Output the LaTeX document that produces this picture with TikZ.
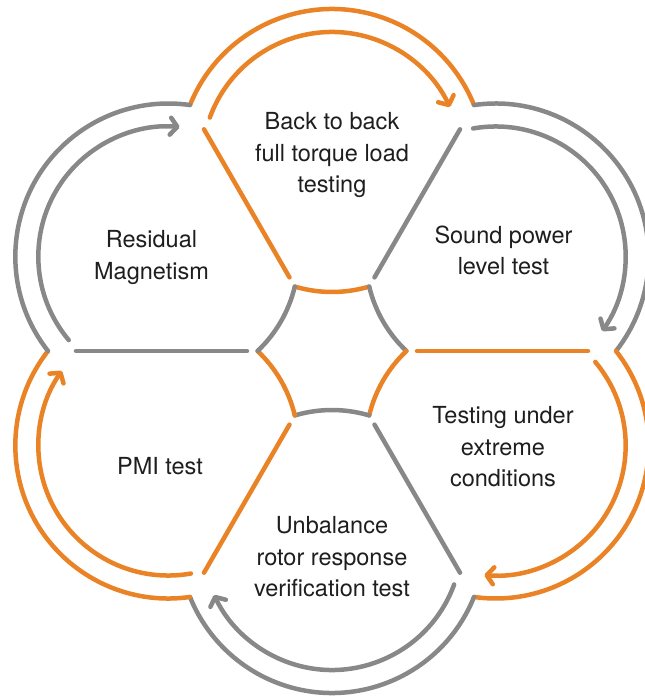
\documentclass[tikz,border=0pt]{standalone}
\usepackage{fontspec}
\setmainfont{TeX Gyre Heros}
\usetikzlibrary{arrows.meta,positioning}
\definecolor{cycleorange}{RGB}{233,131,38}
\definecolor{cyclegray}{RGB}{136,136,136}
\definecolor{cycletext}{RGB}{30,30,30}

\begin{document}
\begin{tikzpicture}[x=1pt,y=1pt,line width=4.5pt,line cap=round,
  orangeline/.style={draw=cycleorange},
  grayline/.style={draw=cyclegray},
  turn/.style={-{Straight Barb[length=7pt,width=17pt,round]}},
  testname/.style={text=cycletext,align=center,font=\fontsize{23.5}{31.5}\selectfont}]
\useasboundingbox (-332,-346) rectangle (313,351);
% top petal
\draw[orangeline] (90:189) ++(158.1:153pt) arc[start angle=158.1,end angle=21.9,radius=153pt];
\draw[orangeline,turn] (90:189) ++(160:130pt) arc[start angle=160,end angle=25,radius=130pt];
\draw[orangeline] (120:85) -- (120:256);
\draw[orangeline] (90:189) ++(253.4:130pt) arc[start angle=253.4,end angle=286.6,radius=130pt];
% upper right petal
\draw[grayline] (30:189) ++(98.1:153pt) arc[start angle=98.1,end angle=-38.1,radius=153pt];
\draw[grayline,turn] (30:189) ++(100:130pt) arc[start angle=100,end angle=-35,radius=130pt];
\draw[grayline] (60:85) -- (60:256);
\draw[grayline] (30:189) ++(193.4:130pt) arc[start angle=193.4,end angle=226.6,radius=130pt];
% lower right petal
\draw[orangeline] (-30:189) ++(38.1:153pt) arc[start angle=38.1,end angle=-98.1,radius=153pt];
\draw[orangeline,turn] (-30:189) ++(40:130pt) arc[start angle=40,end angle=-95,radius=130pt];
\draw[orangeline] (0:85) -- (0:256);
\draw[orangeline] (-30:189) ++(133.4:130pt) arc[start angle=133.4,end angle=166.6,radius=130pt];
% bottom petal
\draw[grayline] (-90:189) ++(-21.9:153pt) arc[start angle=-21.9,end angle=-158.1,radius=153pt];
\draw[grayline,turn] (-90:189) ++(-20:130pt) arc[start angle=-20,end angle=-155,radius=130pt];
\draw[grayline] (-60:85) -- (-60:256);
\draw[grayline] (-90:189) ++(73.4:130pt) arc[start angle=73.4,end angle=106.6,radius=130pt];
% lower left petal
\draw[orangeline] (-150:189) ++(-81.9:153pt) arc[start angle=-81.9,end angle=-218.1,radius=153pt];
\draw[orangeline,turn] (-150:189) ++(-80:130pt) arc[start angle=-80,end angle=-215,radius=130pt];
\draw[orangeline] (-120:85) -- (-120:256);
\draw[orangeline] (-150:189) ++(13.4:130pt) arc[start angle=13.4,end angle=46.6,radius=130pt];
% upper left petal
\draw[grayline] (150:189) ++(218.1:153pt) arc[start angle=218.1,end angle=81.9,radius=153pt];
\draw[grayline,turn] (150:189) ++(220:130pt) arc[start angle=220,end angle=85,radius=130pt];
\draw[grayline] (180:85) -- (180:256);
\draw[grayline] (150:189) ++(313.4:130pt) arc[start angle=313.4,end angle=346.6,radius=130pt];
% texts
\node[testname] (backtoback) at (0,196) {Back to back\\full torque load\\testing};
\node[testname] (soundpower) at (171.5,100.5) {Sound power\\level test};
\node[testname] (extreme) at (171,-96) {Testing under\\extreme\\conditions};
\node[testname] (unbalance) at (0,-206) {Unbalance\\rotor response\\verification test};
\node[testname] (pmi) at (-172,-115) {PMI test};
\node[testname] (residual) at (-180.5,93.5) {Residual\\Magnetism};
\end{tikzpicture}
\end{document}
